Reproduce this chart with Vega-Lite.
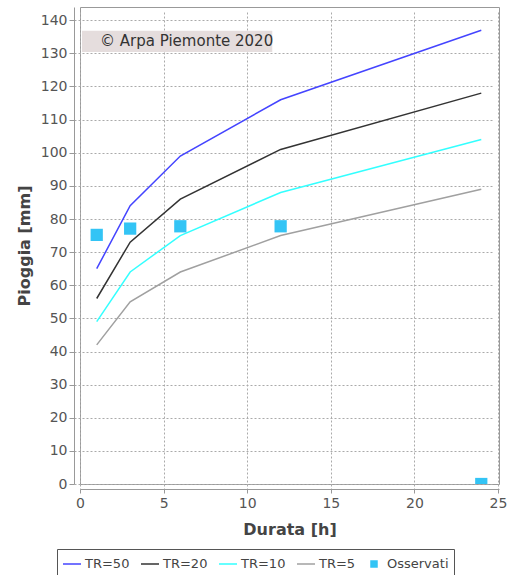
{
  "$schema": "https://vega.github.io/schema/vega-lite/v6.json",
  "width": 419,
  "height": 477,
  "autosize": "none",
  "padding": {"left": 80, "top": 7, "right": 20, "bottom": 91},
  "background": "white",
  "config": {
    "view": {"stroke": "#999999", "strokeWidth": 1},
    "font": "DejaVu Sans",
    "axis": {
      "offset": 5,
      "grid": true,
      "gridDash": [2, 2],
      "gridColor": "#aaaaaa",
      "gridOpacity": 1,
      "domainColor": "#999999",
      "tickColor": "#999999",
      "labelOverlap": false,
      "labelFlush": false,
      "labelFont": "DejaVu Sans",
      "labelFontSize": 14,
      "labelColor": "#555555",
      "titleFont": "DejaVu Sans",
      "titleFontSize": 16,
      "titleFontWeight": "bold",
      "titleColor": "#444444"
    },
    "axisX": {"tickSize": 4, "labelPadding": 3, "titlePadding": 11, "offset": 5},
    "axisY": {"tickSize": 5, "labelPadding": 2, "titlePadding": 8, "offset": 6}
  },
  "datasets": {
    "curve": [
      {"durata": 1, "pioggia": 65, "serie": "TR=50"},
      {"durata": 3, "pioggia": 84, "serie": "TR=50"},
      {"durata": 6, "pioggia": 99, "serie": "TR=50"},
      {"durata": 12, "pioggia": 116, "serie": "TR=50"},
      {"durata": 24, "pioggia": 137, "serie": "TR=50"},
      {"durata": 1, "pioggia": 56, "serie": "TR=20"},
      {"durata": 3, "pioggia": 73, "serie": "TR=20"},
      {"durata": 6, "pioggia": 86, "serie": "TR=20"},
      {"durata": 12, "pioggia": 101, "serie": "TR=20"},
      {"durata": 24, "pioggia": 118, "serie": "TR=20"},
      {"durata": 1, "pioggia": 49, "serie": "TR=10"},
      {"durata": 3, "pioggia": 64, "serie": "TR=10"},
      {"durata": 6, "pioggia": 75, "serie": "TR=10"},
      {"durata": 12, "pioggia": 88, "serie": "TR=10"},
      {"durata": 24, "pioggia": 104, "serie": "TR=10"},
      {"durata": 1, "pioggia": 42, "serie": "TR=5"},
      {"durata": 3, "pioggia": 55, "serie": "TR=5"},
      {"durata": 6, "pioggia": 64, "serie": "TR=5"},
      {"durata": 12, "pioggia": 75, "serie": "TR=5"},
      {"durata": 24, "pioggia": 89, "serie": "TR=5"}
    ],
    "osservati": [
      {"durata": 1, "pioggia": 75.2, "serie": "Osservati"},
      {"durata": 3, "pioggia": 77.1, "serie": "Osservati"},
      {"durata": 6, "pioggia": 77.8, "serie": "Osservati"},
      {"durata": 12, "pioggia": 77.8, "serie": "Osservati"},
      {"durata": 24, "pioggia": 0, "serie": "Osservati"}
    ]
  },
  "layer": [
    {
      "data": {"name": "curve"},
      "mark": {"type": "line", "strokeWidth": 1.5, "clip": true},
      "encoding": {
        "x": {
          "field": "durata",
          "type": "quantitative",
          "scale": {"domain": [0, 25.06], "nice": false, "zero": false},
          "axis": {"values": [0, 5, 10, 15, 20, 25], "title": "Durata [h]"}
        },
        "y": {
          "field": "pioggia",
          "type": "quantitative",
          "scale": {"domain": [0, 144], "nice": false, "zero": false},
          "axis": {"values": [0, 10, 20, 30, 40, 50, 60, 70, 80, 90, 100, 110, 120, 130, 140], "title": "Pioggia [mm]"}
        },
        "color": {
          "field": "serie",
          "type": "nominal",
          "scale": {
            "domain": ["TR=50", "TR=20", "TR=10", "TR=5", "Osservati"],
            "range": ["#4444ff", "#333333", "#33ffff", "#a0a0a0", "#33c4f5"]
          },
          "legend": {
            "orient": "none",
            "legendX": -23,
            "legendY": 542,
            "direction": "horizontal",
            "title": null,
            "strokeColor": "#555555",
            "padding": 5,
            "labelFont": "DejaVu Sans",
            "labelFontSize": 13,
            "labelColor": "#444444",
            "labelOffset": 3,
            "columnPadding": 8,
            "symbolSize": 324,
            "symbolStrokeWidth": 1.5,
            "encode": {
              "symbols": {
                "update": {
                  "shape": {"signal": "datum.value === 'Osservati' ? 'square' : 'stroke'"},
                  "size": {"signal": "datum.value === 'Osservati' ? 36 : 324"},
                  "fill": {"signal": "datum.value === 'Osservati' ? '#33c4f5' : 'transparent'"},
                  "stroke": {"signal": "datum.value === 'Osservati' ? 'transparent' : scale('color', datum.value)"},
                  "strokeWidth": {"value": 1.5},
                  "opacity": {"value": 1}
                }
              }
            }
          }
        }
      }
    },
    {
      "data": {"name": "osservati"},
      "mark": {"type": "point", "shape": "square", "filled": true, "size": 150, "opacity": 1, "clip": true},
      "encoding": {
        "x": {"field": "durata", "type": "quantitative", "axis": {"values": [0, 5, 10, 15, 20, 25], "title": "Durata [h]"}},
        "y": {"field": "pioggia", "type": "quantitative", "axis": {"values": [0, 10, 20, 30, 40, 50, 60, 70, 80, 90, 100, 110, 120, 130, 140], "title": "Pioggia [mm]"}},
        "color": {"field": "serie", "type": "nominal"}
      }
    },
    {
      "data": {"values": [{}]},
      "mark": {"type": "rect", "color": "#e5dddd"},
      "encoding": {
        "x": {"datum": 0.12, "type": "quantitative", "axis": {"values": [0, 5, 10, 15, 20, 25], "title": "Durata [h]"}},
        "x2": {"datum": 11.5},
        "y": {"datum": 130.4, "type": "quantitative", "axis": {"values": [0, 10, 20, 30, 40, 50, 60, 70, 80, 90, 100, 110, 120, 130, 140], "title": "Pioggia [mm]"}},
        "y2": {"datum": 136.8}
      }
    },
    {
      "data": {"values": [{}]},
      "mark": {"type": "text", "text": "© Arpa Piemonte 2020", "align": "left", "baseline": "middle", "font": "DejaVu Sans", "fontSize": 15, "color": "#333333"},
      "encoding": {
        "x": {"datum": 1.2, "type": "quantitative", "axis": {"values": [0, 5, 10, 15, 20, 25], "title": "Durata [h]"}},
        "y": {"datum": 133.6, "type": "quantitative", "axis": {"values": [0, 10, 20, 30, 40, 50, 60, 70, 80, 90, 100, 110, 120, 130, 140], "title": "Pioggia [mm]"}}
      }
    }
  ]
}
